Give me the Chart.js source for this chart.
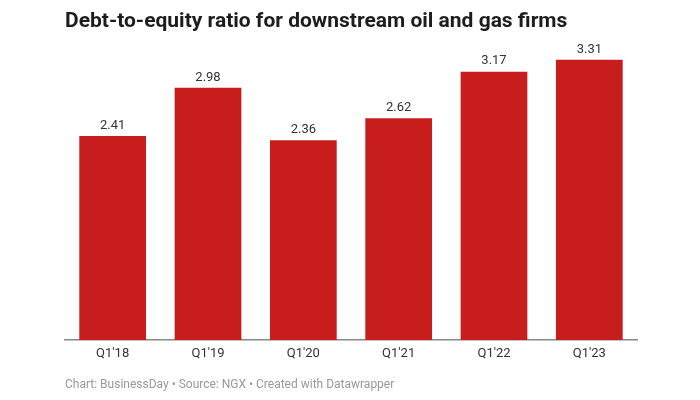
<!DOCTYPE html>
<html>
<head>
<meta charset="utf-8">
<script src="https://cdn.jsdelivr.net/npm/chart.js@4"></script>
<style>
  html, body { margin: 0; padding: 0; background: #fff; }
  #wrap { width: 700px; height: 400px; position: relative; }
</style>
</head>
<body>
<div id="wrap"><canvas id="chart"></canvas></div>
<script>
// Chart data
const quarters = ["Q1'18", "Q1'19", "Q1'20", "Q1'21", "Q1'22", "Q1'23"];
const debtToEquity = [2.41, 2.98, 2.36, 2.62, 3.17, 3.31];

// Draw value labels above each bar
const valueLabels = {
  id: 'valueLabels',
  afterDatasetsDraw(chart) {
    const ctx = chart.ctx;
    const meta = chart.getDatasetMeta(0);
    ctx.save();
    ctx.font = '13px Roboto';
    ctx.fillStyle = '#333';
    ctx.textAlign = 'center';
    ctx.textBaseline = 'bottom';
    meta.data.forEach((bar, i) => {
      ctx.fillText(debtToEquity[i].toFixed(2), bar.x, bar.y - 4);
    });
    ctx.restore();
  }
};

new Chart(document.getElementById('chart'), {
  type: 'bar',
  data: {
    labels: quarters,
    datasets: [{
      data: debtToEquity,
      backgroundColor: '#c71e1d',
      barPercentage: 0.7,
      categoryPercentage: 1
    }]
  },
  options: {
    responsive: true,
    maintainAspectRatio: false,
    animation: false,
    layout: { padding: { left: 65, right: 63, top: 0, bottom: 8 } },
    scales: {
      x: {
        grid: { display: false, drawTicks: false },
        border: { display: true, color: '#888', width: 1.5 },
        ticks: { color: '#333', font: { family: 'Roboto', size: 13 }, padding: 6 }
      },
      y: { display: false, min: 0, max: 3.4 }
    },
    plugins: {
      legend: { display: false },
      tooltip: { enabled: false },
      title: {
        display: true,
        text: 'Debt-to-equity ratio for downstream oil and gas firms',
        align: 'start',
        color: '#1d1d1d',
        font: { family: 'Roboto', size: 21, weight: 'bold' },
        padding: { top: 9, bottom: 18 }
      },
      subtitle: {
        display: true,
        position: 'bottom',
        text: 'Chart: BusinessDay \u2022 Source: NGX \u2022 Created with Datawrapper',
        align: 'start',
        color: '#999',
        font: { family: 'Roboto', size: 12 },
        padding: { top: 10, bottom: 0 }
      }
    }
  },
  plugins: [valueLabels]
});
</script>
</body>
</html>
